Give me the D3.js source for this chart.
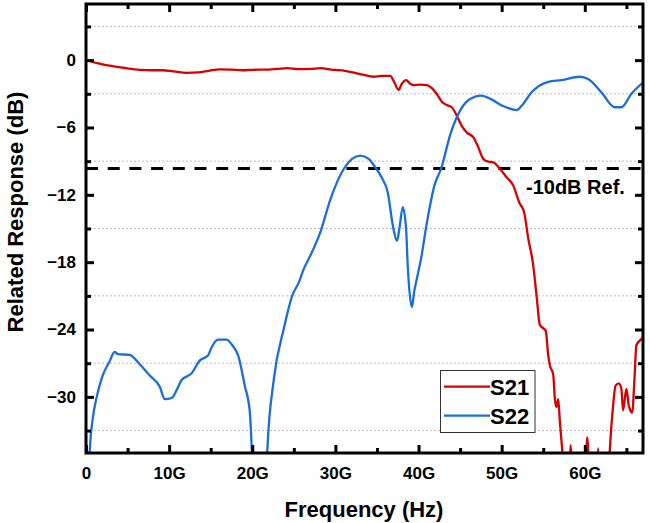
<!DOCTYPE html>
<html>
<head>
<meta charset="utf-8">
<script src="https://cdn.jsdelivr.net/npm/d3@7"></script>
<style>
  html, body { margin: 0; padding: 0; background: #fff; }
  svg { display: block; font-family: "Liberation Sans", Arial, sans-serif; font-weight: bold; }
</style>
</head>
<body>
<svg id="chart" width="650" height="523"></svg>
<script>
// ---------- data (frequency in GHz, response in dB) ----------
const xMajorTicks = [0, 10, 20, 30, 40, 50, 60];
const xMinorTicks = [5, 15, 25, 35, 45, 55, 65];
const yMajorTicks = [0, -6, -12, -18, -24, -30];
const yMinorTicks = [3, -3, -9, -15, -21, -27, -33];
const refLevel = -9.65;
const refLabel = "-10dB Ref.";
const seriesNames = ["S21", "S22"];

const s21Freq = [0, 0.5, 1.5, 2.8, 4.5, 6.5, 8, 9.2, 10.5, 12.1, 13.5, 14.8, 16.1, 17.5, 18.8, 20.1, 21.5, 23, 24.2, 25.5, 27, 28.2, 29.5,
  30.5, 32.1, 33.3, 34.6, 35.5, 36.6, 37.0, 37.6, 38.0, 38.5, 39.0, 39.5, 40.1, 41.0, 41.6, 42.2, 42.8, 43.4, 44.0, 44.6, 45.2, 45.8, 46.6,
  47.1, 47.8, 48.4, 49.0, 49.8, 50.6, 51.4, 52.1, 52.7, 53.2, 53.8, 54.2, 54.6, 55.3, 55.6, 55.8, 56.2, 56.4, 56.6, 56.8, 57.0, 57.3, 57.6,
  58.0, 58.3, 58.6, 60.0, 60.3, 60.6, 61.4, 61.6, 61.8, 62.8, 63.0, 63.4, 63.7, 64.1, 64.4, 64.6, 65.0, 65.3, 65.7, 66.0, 66.2, 66.6, 67.0];
const s21Value = [0, -0.1, -0.3, -0.5, -0.68, -0.86, -0.9, -0.9, -1.0, -1.13, -1.1, -0.95, -0.82, -0.85, -0.9, -0.86, -0.85, -0.78, -0.71, -0.8, -0.78, -0.72, -0.85,
  -0.9, -1.1, -1.3, -1.48, -1.4, -1.4, -1.84, -2.64, -2.1, -1.78, -2.1, -2.22, -2.18, -2.22, -2.5, -3.02, -3.7, -4.0, -4.2, -4.95, -5.85, -6.44, -6.88,
  -7.6, -8.8, -9.05, -9.1, -9.7, -10.44, -11.18, -12.66, -13.55, -15.9, -18.3, -21.0, -23.6, -24.1, -26.3, -27.2, -28.0, -30.2, -30.9, -30.2, -32.2, -34.9, -38,
  -38, -34.3, -38, -38, -33.6, -38, -38, -34.6, -38, -38, -34.9, -30.8, -29.0, -28.8, -29.3, -31.2, -29.3, -30.8, -31.4, -28.0, -25.4, -25.0, -24.7];

const s22Freq = [0.3, 0.45, 0.8, 1.23, 2.0, 2.8, 3.44, 3.85, 5.25, 6.46, 7.67, 8.88, 9.48, 10.3, 10.9, 11.5, 12.7, 13.7, 14.7, 15.1, 15.9, 16.9, 17.6, 18.3,
  19.1, 19.7, 19.95, 20.1, 21.7, 21.8, 22.6, 23.8, 24.8, 25.6, 26.2, 26.8, 28.2, 29.4, 31.0, 32.0, 33.0, 34.0, 34.8, 35.6, 36.3, 36.9, 37.4, 37.7,
  38.1, 38.5, 38.7, 38.9, 39.2, 39.5, 39.7, 40.3, 41.0, 41.9, 42.7, 43.9, 45.1, 46.3, 47.5, 48.7, 50.1, 51.8, 52.4, 53.6, 55.6, 57.2, 59.4, 60.4,
  62.0, 63.6, 64.4, 65.6, 67.0];
const s22Value = [-38, -34.9, -32, -30.2, -28.1, -26.9, -26.0, -26.2, -26.25, -27.1, -28.1, -29.1, -30.2, -30.1, -29.4, -28.5, -27.9, -26.75, -26.3, -25.6, -24.9, -24.9, -25.4, -26.3,
  -29.0, -31.3, -34.9, -38, -38, -34.9, -28.4, -23.9, -21.0, -19.8, -18.6, -17.7, -15.3, -12.4, -9.7, -8.8, -8.5, -8.8, -9.55, -10.5, -11.8, -14.7, -16.1, -15.0,
  -13.1, -15.0, -18.3, -20.5, -22.0, -20.5, -19.8, -17.7, -14.5, -11.2, -9.7, -6.43, -4.36, -3.41, -3.17, -3.47, -4.07, -4.45, -4.07, -2.87, -1.93, -1.78, -1.48, -1.69,
  -2.87, -4.2, -4.2, -3.0, -2.0];

const colors = ["#d90000", "#1a6ddb"];

// ---------- layout ----------
const svg = d3.select("#chart");
const L = 86, T = 4, R = 643, B = 453;
const x = d3.scaleLinear().domain([0, 67]).range([L, R]);
const y = d3.scaleLinear().domain([-35, 5]).range([B, T]);

// gridlines at minor y ticks
svg.append("g").selectAll("line").data(yMinorTicks).join("line")
  .attr("x1", L).attr("x2", R)
  .attr("y1", d => y(d)).attr("y2", d => y(d))
  .attr("stroke", "#bdbdbd").attr("stroke-width", 1).attr("stroke-dasharray", "2,2");

// clip
svg.append("clipPath").attr("id", "clip").append("rect")
  .attr("x", L).attr("y", T).attr("width", R - L).attr("height", B - T);

// reference dashed line
svg.append("line")
  .attr("x1", L).attr("x2", R).attr("y1", y(refLevel)).attr("y2", y(refLevel))
  .attr("stroke", "#000").attr("stroke-width", 3).attr("stroke-dasharray", "12,9.7");

const line = d3.line().x(d => x(d[0])).y(d => y(d[1])).curve(d3.curveMonotoneX);
const series = [
  d3.zip(s21Freq, s21Value),
  d3.zip(s22Freq, s22Value)
];
svg.append("g").attr("clip-path", "url(#clip)").selectAll("path").data(series).join("path")
  .attr("d", line).attr("fill", "none")
  .attr("stroke", (d, i) => colors[i]).attr("stroke-width", 2.3).attr("stroke-linejoin", "round");

// axes
function styleAxis(g) {
  g.select(".domain").remove();
  g.selectAll(".tick line").attr("stroke", "#000").attr("stroke-width", 3);
  g.selectAll(".tick text").attr("fill", "#000").attr("font-size", 17).attr("font-weight", "bold")
    .attr("font-family", "Liberation Sans, Arial, sans-serif");
}
const fmtX = d => d === 0 ? "0" : d + "G";
svg.append("g").attr("transform", `translate(0,${B})`)
  .call(d3.axisBottom(x).tickValues(xMajorTicks).tickSize(-8).tickPadding(14).tickFormat(fmtX)).call(styleAxis);
svg.append("g").attr("transform", `translate(0,${B})`)
  .call(d3.axisBottom(x).tickValues(xMinorTicks).tickSize(-5).tickFormat("")).call(styleAxis);
svg.append("g").attr("transform", `translate(0,${T})`)
  .call(d3.axisTop(x).tickValues(xMajorTicks).tickSize(-8).tickFormat("")).call(styleAxis);
svg.append("g").attr("transform", `translate(0,${T})`)
  .call(d3.axisTop(x).tickValues(xMinorTicks).tickSize(-5).tickFormat("")).call(styleAxis);
svg.append("g").attr("transform", `translate(${L},0)`)
  .call(d3.axisLeft(y).tickValues(yMajorTicks).tickSize(-8).tickPadding(10).tickFormat(d3.format("d"))).call(styleAxis);
svg.append("g").attr("transform", `translate(${L},0)`)
  .call(d3.axisLeft(y).tickValues(yMinorTicks).tickSize(-5).tickFormat("")).call(styleAxis);
svg.append("g").attr("transform", `translate(${R},0)`)
  .call(d3.axisRight(y).tickValues(yMajorTicks).tickSize(-8).tickFormat("")).call(styleAxis);
svg.append("g").attr("transform", `translate(${R},0)`)
  .call(d3.axisRight(y).tickValues(yMinorTicks).tickSize(-5).tickFormat("")).call(styleAxis);

// frame
svg.append("rect").attr("x", L).attr("y", T).attr("width", R - L).attr("height", B - T)
  .attr("fill", "none").attr("stroke", "#000").attr("stroke-width", 3);

// ref label
svg.append("text").attr("x", 526).attr("y", 194).attr("font-size", 20).attr("fill", "#000").text(refLabel);

// axis titles
svg.append("text").attr("x", 364).attr("y", 517).attr("text-anchor", "middle")
  .attr("font-size", 22).attr("fill", "#000").text("Frequency (Hz)");
svg.append("text").attr("transform", "translate(23,212) rotate(-90)").attr("text-anchor", "middle")
  .attr("font-size", 22).attr("fill", "#000").text("Related Response (dB)");

// legend
const lg = svg.append("g");
lg.append("rect").attr("x", 440.5).attr("y", 370.5).attr("width", 94.5).attr("height", 62)
  .attr("fill", "#fff").attr("stroke", "#333").attr("stroke-width", 1);
seriesNames.forEach((name, i) => {
  const yy = 386.7 + i * 29;
  lg.append("line").attr("x1", 444).attr("x2", 490).attr("y1", yy).attr("y2", yy)
    .attr("stroke", colors[i]).attr("stroke-width", 2.3);
  lg.append("text").attr("x", 490).attr("y", yy + 8.3).attr("font-size", 22).attr("fill", "#000").text(name);
});
</script>
</body>
</html>
